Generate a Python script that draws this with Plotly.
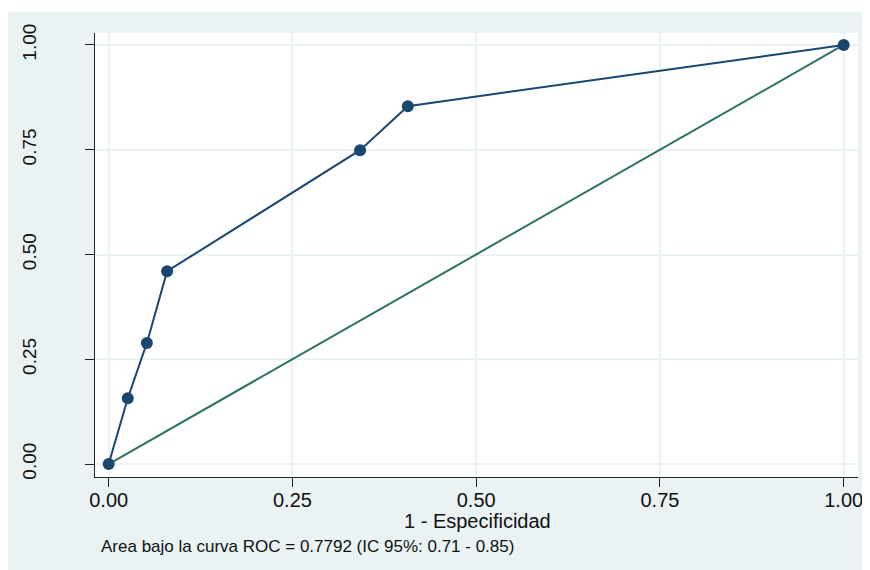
import plotly.graph_objects as go

# ROC curve points (1 - specificity, sensitivity)
fpr = [0.0, 0.026, 0.052, 0.0795, 0.342, 0.407, 1.0]
tpr = [0.0, 0.157, 0.289, 0.460, 0.749, 0.854, 1.0]
# reference diagonal
ref_x = [0.0, 1.0]
ref_y = [0.0, 1.0]
tick_vals = [0.0, 0.25, 0.5, 0.75, 1.0]
tick_text = ["0.00", "0.25", "0.50", "0.75", "1.00"]
x_title = "1 - Especificidad"
note = "Area bajo la curva ROC = 0.7792 (IC 95%: 0.71 - 0.85)"

NAVY = "#1A476F"
GREEN = "#2C7262"
BG = "#EAF2F3"
FONT = "Liberation Sans, Arial, sans-serif"

OFF = 8  # page body margin
W, H = 870, 570
# plot area in screen pixels: x 95..858, y 33..477
L, T = 95 - OFF, 33 - OFF
R, B = W - (858 - OFF), H - (477 - OFF)
pw, ph = W - L - R, H - T - B

def px2paper_x(p):
    return (p - OFF - L) / pw

def px2paper_y(p):
    return (H - B - (p - OFF)) / ph

fig = go.Figure()
fig.add_trace(go.Scatter(x=ref_x, y=ref_y, mode="lines",
                         line=dict(color=GREEN, width=2), showlegend=False,
                         hoverinfo="skip"))
fig.add_trace(go.Scatter(x=fpr, y=tpr, mode="lines+markers",
                         line=dict(color=NAVY, width=2),
                         marker=dict(color=NAVY, size=12),
                         showlegend=False))

# thin white strip at the top of the graph region
fig.add_shape(type="rect", xref="paper", yref="paper", layer="below",
              x0=px2paper_x(0), x1=px2paper_x(880),
              y0=px2paper_y(12), y1=px2paper_y(0),
              fillcolor="white", line=dict(width=0))

# x-axis title
fig.add_annotation(text=x_title, xref="paper", yref="paper",
                   x=px2paper_x(477), y=px2paper_y(521),
                   xanchor="center", yanchor="middle", showarrow=False,
                   font=dict(family=FONT, size=20, color="#111111"))
# footnote
fig.add_annotation(text=note, xref="paper", yref="paper",
                   x=px2paper_x(99), y=px2paper_y(546),
                   xanchor="left", yanchor="middle", showarrow=False,
                   font=dict(family=FONT, size=17, color="#111111"))

fig.update_layout(
    width=W, height=H,
    margin=dict(l=L, r=R, t=T, b=B, pad=0, autoexpand=False),
    paper_bgcolor=BG,
    plot_bgcolor="white",
    font=dict(family=FONT, color="#111111"),
)
fig.update_xaxes(range=[-0.0186, 1.0195], tickvals=tick_vals, ticktext=tick_text,
                 automargin=False,
                 showgrid=True, gridcolor=BG, gridwidth=2, zeroline=False,
                 showline=True, linecolor="#222222", linewidth=1.3,
                 ticks="outside", ticklen=9, tickcolor="#222222", tickwidth=1.3,
                 ticklabelstandoff=-4,
                 tickfont=dict(family=FONT, size=20, color="#111111"))
fig.update_yaxes(range=[-0.031, 1.0286], tickvals=tick_vals, ticktext=tick_text,
                 automargin=False,
                 showgrid=True, gridcolor=BG, gridwidth=2, zeroline=False,
                 showline=True, linecolor="#222222", linewidth=1.3,
                 ticks="outside", ticklen=9, tickcolor="#222222", tickwidth=1.3,
                 tickangle=-90, ticklabelstandoff=41,
                 tickfont=dict(family=FONT, size=19, color="#111111"))

fig.write_html("out.html")
